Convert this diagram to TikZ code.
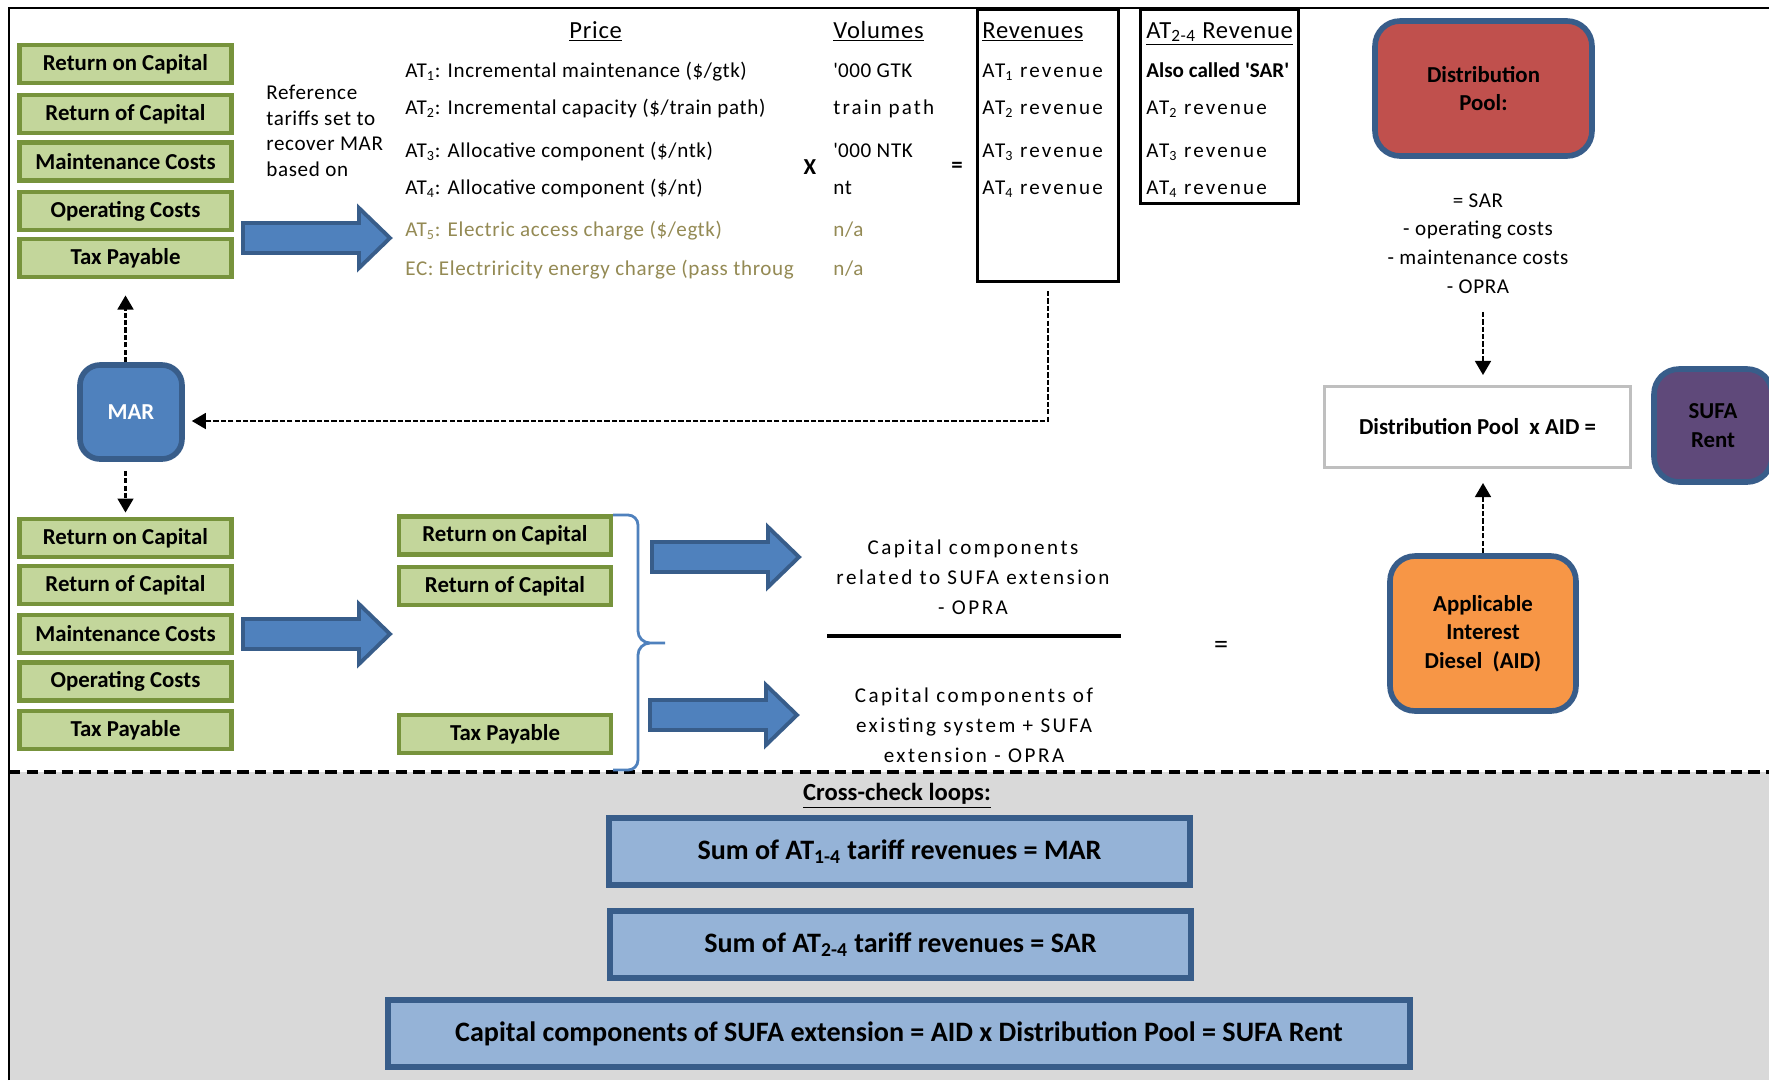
\documentclass[tikz,border=0pt]{standalone}
\usepackage{fontspec}
\setmainfont{Carlito}
\newfontfamily\trackfont{Carlito}[LetterSpace=3]
\newfontfamily\widefont{Carlito}[LetterSpace=10]
\newfontfamily\capfont{Carlito}[LetterSpace=12]
\definecolor{gbFill}{HTML}{C3D69B}
\definecolor{gbLine}{HTML}{77933C}
\definecolor{rbLine}{HTML}{385D8A}
\definecolor{arFill}{HTML}{4F81BD}
\definecolor{arLine}{HTML}{385D8A}
\definecolor{marBlue}{HTML}{4F81BD}
\definecolor{dpRed}{HTML}{C0504D}
\definecolor{aidOrange}{HTML}{F79646}
\definecolor{sufaPurple}{HTML}{5F497A}
\definecolor{tanText}{HTML}{948A54}
\definecolor{ckFill}{HTML}{95B3D7}
\definecolor{ckLine}{HTML}{385D8A}
\definecolor{grayBg}{HTML}{D9D9D9}
\definecolor{gridGray}{HTML}{BFBFBF}
\usetikzlibrary{arrows.meta}

\begin{document}
\begin{tikzpicture}[x=0.02cm, y=-0.02cm,
  greenbox/.style={draw=gbLine, fill=gbFill, line width=2.8pt,
    minimum width=4.24cm, minimum height=0.76cm, inner sep=0pt,
    font=\fontsize{13}{15}\selectfont\bfseries},
  roundbox/.style={draw=rbLine, line width=3.2pt, rounded corners=0.5cm,
    align=center, font=\fontsize{13}{16.4}\selectfont\bfseries},
  txt/.style={anchor=base west, inner sep=0pt, font=\fontsize{12}{14.5}\selectfont\trackfont},
  wtxt/.style={txt, font=\fontsize{12}{14.5}\selectfont\widefont},
  hdr/.style={txt, font=\fontsize{14}{16}\selectfont\trackfont},
  captxt/.style={align=center, font=\fontsize{12}{17}\selectfont\capfont},
  revframe/.style={draw, line width=1.8pt, inner sep=0pt},
  dasharr/.style={-{Triangle[length=8pt,width=9pt]}, line width=1.3pt,
    dash pattern=on 3pt off 1.2pt},
  braceline/.style={draw=arFill, line width=1.6pt},
  checkbox/.style={draw=ckLine, fill=ckFill, line width=3.3pt,
    minimum height=1.34cm, font=\fontsize{16}{18}\selectfont\bfseries},
  fatarrow/.pic={\draw[draw=arLine, fill=arFill, line width=2.2pt, line join=miter]
    (0,-15) -- (116,-15) -- (116,-30) -- (147,0) -- (116,30) -- (116,15) -- (0,15) -- cycle;}
]
  \useasboundingbox (0,0) rectangle (1769,1080);
  \fill[white] (0,0) rectangle (1769,1080);
  \fill[grayBg] (9,772) rectangle (1769,1080);
  \draw[line width=1.5pt] (9,1080) -- (9,8) -- (1769,8);
  \draw[line width=2.2pt, dash pattern=on 6.5pt off 3.5pt] (9,772) -- (1769,772);

  \node[greenbox] (roc1) at (125.5,64) {Return on Capital};
  \node[greenbox] (rofc1) at (125.5,114) {Return of Capital};
  \node[greenbox] (maint1) at (125.5,161.5) {Maintenance Costs};
  \node[greenbox] (opc1) at (125.5,211) {Operating Costs};
  \node[greenbox] (tax1) at (125.5,258) {Tax Payable};

  \node[txt, anchor=west, align=left] (reftxt) at (266,131)
    {Reference\\tariffs set to\\recover MAR\\based on};
  \pic at (243,238) {fatarrow};

  \node[hdr] (hprice) at (569,38) {\underline{Price}};
  \node[hdr] (hvol) at (833,38) {\underline{Volumes}};
  \node[hdr] (hrev) at (982,38) {\underline{Revenues}};
  \node[hdr] (hsar) at (1146,38) {\underline{AT\textsubscript{2-4} Revenue}};

  \node[txt] (p1) at (405,77) {AT\textsubscript{1}: Incremental maintenance (\$/gtk)};
  \node[txt] (p2) at (405,114) {AT\textsubscript{2}: Incremental capacity (\$/train path)};
  \node[txt] (p3) at (405,157) {AT\textsubscript{3}: Allocative component (\$/ntk)};
  \node[txt] (p4) at (405,194) {AT\textsubscript{4}: Allocative component (\$/nt)};
  \node[txt, text=tanText] (p5) at (405,236) {AT\textsubscript{5}: Electric access charge (\$/egtk)};
  \node[txt, text=tanText] (pec) at (405,275) {EC: Electriricity energy charge (pass throug};

  \node[txt] (v1) at (833,77) {\textquotesingle000 GTK};
  \node[wtxt] (v2) at (833,114) {train path};
  \node[txt] (v3) at (833,157) {\textquotesingle000 NTK};
  \node[txt] (v4) at (833,194) {nt};
  \node[txt, text=tanText] (v5) at (833,236) {n/a};
  \node[txt, text=tanText] (v6) at (833,275) {n/a};

  \node[font=\fontsize{13}{15}\selectfont\bfseries] (times) at (810,167) {X};
  \node[font=\fontsize{13}{15}\selectfont\bfseries] (eq1) at (957,167) {=};

  \node[revframe, minimum width=2.82cm, minimum height=5.44cm] (rev) at (1048,145.5) {};
  \node[revframe, minimum width=3.16cm, minimum height=3.88cm] (sarbox) at (1219.5,106.5) {};
  \node[wtxt] (r1) at (982,77) {AT\textsubscript{1} revenue};
  \node[wtxt] (r2) at (982,114) {AT\textsubscript{2} revenue};
  \node[wtxt] (r3) at (982,157) {AT\textsubscript{3} revenue};
  \node[wtxt] (r4) at (982,194) {AT\textsubscript{4} revenue};
  \node[txt, font=\fontsize{12}{14.5}\selectfont\bfseries] (s0) at (1146,77) {Also called \textquotesingle SAR\textquotesingle};
  \node[wtxt] (s1) at (1146,114) {AT\textsubscript{2} revenue};
  \node[wtxt] (s2) at (1146,157) {AT\textsubscript{3} revenue};
  \node[wtxt] (s3) at (1146,194) {AT\textsubscript{4} revenue};

  \node[roundbox, fill=dpRed, minimum width=4.34cm, minimum height=2.7cm] (dpool) at (1483.5,88.5) {Distribution\\Pool:};
  \node[align=center, font=\fontsize{12}{16.4}\selectfont\trackfont] (dpcalc) at (1478,243.5)
    {= SAR\\- operating costs\\- maintenance costs\\- OPRA};
  \node[draw=gridGray, line width=1.7pt, minimum width=6.12cm, minimum height=1.62cm,
    font=\fontsize{13}{15}\selectfont\bfseries] (dpaid) at (1477.5,427) {Distribution Pool~ x AID =};
  \node[roundbox, fill=sufaPurple, minimum width=2.36cm, minimum height=2.26cm] (sufa) at (1713,425.5) {SUFA\\Rent};
  \node[roundbox, fill=aidOrange, minimum width=3.72cm, minimum height=3.1cm,
    font=\fontsize{13}{16.2}\selectfont\bfseries] (aid) at (1483,633.5) {Applicable\\Interest\\Diesel~ (AID)};

  \node[roundbox, fill=marBlue, text=white, minimum width=2.04cm, minimum height=1.88cm,
    rounded corners=0.4cm] (mar) at (131,412) {MAR};

  \node[greenbox] (roc2) at (125.5,538) {Return on Capital};
  \node[greenbox] (rofc2) at (125.5,585) {Return of Capital};
  \node[greenbox] (maint2) at (125.5,634) {Maintenance Costs};
  \node[greenbox] (opc2) at (125.5,681.5) {Operating Costs};
  \node[greenbox] (tax2) at (125.5,730) {Tax Payable};
  \pic at (243,634) {fatarrow};

  \node[greenbox] (roc3) at (505,535.5) {Return on Capital};
  \node[greenbox] (rofc3) at (505,586) {Return of Capital};
  \node[greenbox] (tax3) at (505,734) {Tax Payable};
  \draw[braceline] (613,515) -- (628,515) to[out=0,in=90] (638,525) -- (638,631)
    to[out=-90,in=180] (650,643) -- (665,643)
    (650,643) to[out=180,in=90] (638,655) -- (638,760) to[out=-90,in=0] (628,770) -- (613,770);

  \pic at (652,557) {fatarrow};
  \pic at (650,715) {fatarrow};
  \node[captxt] (capext) at (973,577) {Capital components\\related to SUFA extension\\- OPRA};
  \draw[line width=1.9pt] (827,636) -- (1121,636);
  \node[captxt] (capall) at (974,725) {Capital components of\\existing system + SUFA\\extension - OPRA};
  \node[font=\fontsize{16}{18}\selectfont] (eq2) at (1221,647) {=};

  \node[font=\fontsize{14}{16}\selectfont\bfseries] (xcheck) at (897,796) {\underline{Cross-check loops:}};
  \node[checkbox, minimum width=11.62cm] (chk1) at (899.5,851.5) {Sum of AT\textsubscript{1-4} tariff revenues = MAR};
  \node[checkbox, minimum width=11.62cm] (chk2) at (900.5,944.5) {Sum of AT\textsubscript{2-4} tariff revenues = SAR};
  \node[checkbox, minimum width=20.44cm] (chk3) at (899,1033.5) {Capital components of SUFA extension = AID x Distribution Pool = SUFA Rent};

  \draw[dasharr, shorten >=0.32cm] (mar.north -| tax1.south) -- (tax1.south);
  \draw[dasharr, shorten <=0.18cm, shorten >=0.08cm] (mar.south -| roc2.north) -- (roc2.north);
  \draw[dasharr, shorten <=0.16cm, shorten >=0.14cm] (rev.south) |- ([yshift=-0.18cm]mar.east);
  \draw[dasharr, shorten <=0.24cm, shorten >=0.2cm] (dpcalc.south -| aid.north) -- (aid.north |- dpaid.north);
  \draw[dasharr, shorten >=0.28cm] (aid.north) -- (aid.north |- dpaid.south);
\end{tikzpicture}
\end{document}
